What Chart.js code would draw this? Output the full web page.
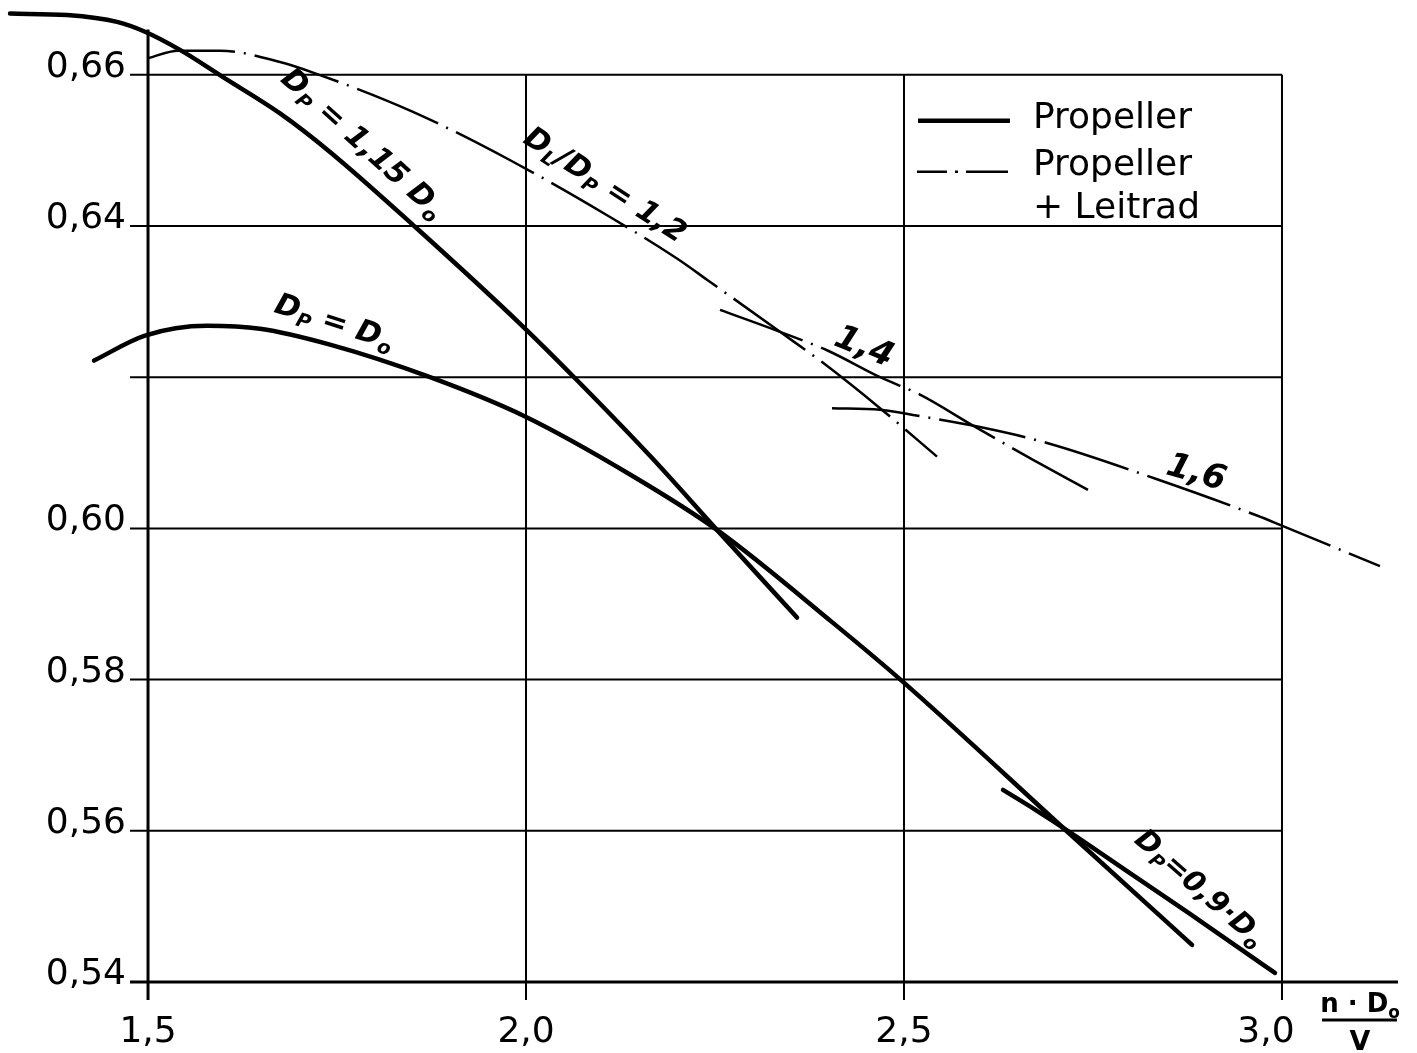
<!DOCTYPE html>
<html>
<head>
<meta charset="utf-8">
<title>Propeller / Leitrad</title>
<script src="https://cdn.jsdelivr.net/npm/chart.js@4.4.1/dist/chart.umd.min.js"></script>
<style>
  html, body { margin: 0; padding: 0; background: #fff; }
  canvas { display: block; }
</style>
</head>
<body>
<canvas id="chart" width="1417" height="1053"></canvas>
<script>
// axis ticks (the 0,62 line has no label in the original)
var xTicks = [1.5, 2.0, 2.5, 3.0];
var xTickLabels = ['1,5', '2,0', '2,5', '3,0'];
var yTicks = [0.54, 0.56, 0.58, 0.60, 0.62, 0.64, 0.66];
var yTickLabels = ['0,54', '0,56', '0,58', '0,60', '', '0,64', '0,66'];

// Propeller alone, D_P = 1,15 D_0
var dp115X = [1.3175, 1.3929, 1.4590, 1.4960, 1.5423, 1.5992, 1.6746, 1.7407, 1.8532, 1.9960, 2.0675, 2.1640, 2.2526, 2.3585];
var dp115Y = [0.6681, 0.6679, 0.6670, 0.6657, 0.6633, 0.6597, 0.6549, 0.6498, 0.6399, 0.6267, 0.6196, 0.6096, 0.5998, 0.5882];

// Propeller alone, D_P = D_0
var dp100X = [1.4286, 1.4960, 1.5780, 1.6481, 1.7407, 1.8730, 1.9987, 2.1415, 2.2526, 2.4061, 2.4987, 2.7169, 2.8810];
var dp100Y = [0.6222, 0.6255, 0.6268, 0.6264, 0.6243, 0.6200, 0.6148, 0.6069, 0.5998, 0.5875, 0.5797, 0.5598, 0.5449];

// Propeller alone, D_P = 0,9 D_0
var dp090X = [2.6310, 2.6733, 2.7196, 2.7989, 2.8783, 2.9444, 2.9907];
var dp090Y = [0.5654, 0.5628, 0.5598, 0.5544, 0.5490, 0.5444, 0.5412];

// Propeller + Leitrad, D_L/D_P = 1,2 / 1,4 / 1,6
var dl12X = [1.5000, 1.5397, 1.5952, 1.6746, 1.7183, 1.8505, 1.9828, 2.1111, 2.1997, 2.2394, 2.3360, 2.3929, 2.4683, 2.5437];
var dl12Y = [0.6622, 0.6632, 0.6632, 0.6617, 0.6603, 0.6551, 0.6485, 0.6412, 0.6357, 0.6329, 0.6260, 0.6219, 0.6159, 0.6095];
var dl14X = [2.2566, 2.3360, 2.3995, 2.4683, 2.5212, 2.5913, 2.6667, 2.7434];
var dl14Y = [0.6289, 0.6260, 0.6235, 0.6200, 0.6177, 0.6136, 0.6093, 0.6051];
var dl16X = [2.4048, 2.4683, 2.5119, 2.6005, 2.6892, 2.8347, 2.9669, 3.0013, 3.1296];
var dl16Y = [0.6159, 0.6157, 0.6150, 0.6134, 0.6113, 0.6065, 0.6017, 0.6003, 0.5950];

var legendLabels = ['Propeller', 'Propeller', '+ Leitrad'];

function pts(xs, ys) {
    return xs.map(function(x, i) { return {x: x, y: ys[i]}; });
}

var FONT = '"DejaVu Sans", sans-serif';
var DASHDOT = [88, 9, 2, 9];

// rotated labels written along the curves (anchored in data units)
var curveLabels = [
    {x: 1.7857, y: 0.6511, angle: 42, size: 30, parts: [['D'], ['P', 1], [' = 1,15 '], ['D'], ['o', 1]]},
    {x: 1.7474, y: 0.6275, angle: 18, size: 30, parts: [['D'], ['P', 1], [' = '], ['D'], ['o', 1]]},
    {x: 2.1060, y: 0.6456, angle: 33, size: 30, parts: [['D'], ['L', 1], ['/'], ['D'], ['P', 1], [' = 1,2']]},
    {x: 2.4484, y: 0.6243, angle: 22, size: 34, parts: [['1,4']]},
    {x: 2.8876, y: 0.6077, angle: 16, size: 34, parts: [['1,6']]},
    {x: 2.8929, y: 0.5526, angle: 41, size: 29, parts: [['D'], ['P', 1], ['=0,9\u00b7'], ['D'], ['o', 1]]}
];

function drawRich(ctx, parts, x, y, angle, size, style) {
    ctx.save();
    ctx.translate(x, y);
    ctx.rotate(angle * Math.PI / 180);
    var total = 0;
    var widths = parts.map(function(p) {
        ctx.font = style + ' ' + (p[1] ? size * 0.65 : size) + 'px ' + FONT;
        var w = ctx.measureText(p[0]).width;
        total += w;
        return w;
    });
    var cx = -total / 2;
    ctx.textAlign = 'left';
    ctx.textBaseline = 'alphabetic';
    parts.forEach(function(p, i) {
        ctx.font = style + ' ' + (p[1] ? size * 0.65 : size) + 'px ' + FONT;
        ctx.fillText(p[0], cx, size * 0.36 + (p[1] ? size * 0.2 : 0));
        cx += widths[i];
    });
    ctx.restore();
}

var paperPlugin = {
    id: 'paper',
    beforeDatasetsDraw: function(chart) {
        var ctx = chart.ctx, xs = chart.scales.x, ys = chart.scales.y;
        var left = xs.getPixelForValue(1.5), right = xs.getPixelForValue(3.0);
        var top = ys.getPixelForValue(0.66), bottom = ys.getPixelForValue(0.54);
        ctx.save();
        ctx.strokeStyle = '#000';
        ctx.lineCap = 'butt';
        yTicks.forEach(function(v) {
            var y = ys.getPixelForValue(v);
            ctx.lineWidth = v === 0.54 ? 3 : 2;
            ctx.beginPath();
            ctx.moveTo(left - 18, y);
            ctx.lineTo(v === 0.54 ? right + 116 : right, y);
            ctx.stroke();
        });
        xTicks.forEach(function(v) {
            var x = xs.getPixelForValue(v);
            ctx.lineWidth = v === 1.5 ? 3 : 2;
            ctx.beginPath();
            ctx.moveTo(x, v === 1.5 ? ys.getPixelForValue(0.666) : top);
            ctx.lineTo(x, bottom + 18);
            ctx.stroke();
        });
        ctx.restore();
    },
    afterDatasetsDraw: function(chart) {
        var ctx = chart.ctx, xs = chart.scales.x, ys = chart.scales.y;
        var right = xs.getPixelForValue(3.0), left = xs.getPixelForValue(1.5);
        var top = ys.getPixelForValue(0.66), bottom = ys.getPixelForValue(0.54);
        ctx.save();
        ctx.fillStyle = '#000';
        ctx.strokeStyle = '#000';

        // tick labels
        ctx.font = '36px ' + FONT;
        ctx.textAlign = 'right';
        ctx.textBaseline = 'alphabetic';
        yTicks.forEach(function(v, i) {
            if (yTickLabels[i]) ctx.fillText(yTickLabels[i], left - 22, ys.getPixelForValue(v) + 2);
        });
        ctx.textAlign = 'center';
        xTicks.forEach(function(v, i) {
            var x = xs.getPixelForValue(v) - (v === 3.0 ? 16 : 0);
            ctx.fillText(xTickLabels[i], x, bottom + 60);
        });

        // axis title n·D0 / V
        var fx = right + 78;
        drawRich(ctx, [['n \u00b7 D'], ['o', 1]], fx, bottom + 21, 0, 26, 'bold');
        ctx.lineWidth = 3;
        ctx.beginPath();
        ctx.moveTo(right + 40, bottom + 38);
        ctx.lineTo(right + 115, bottom + 38);
        ctx.stroke();
        ctx.font = 'bold 27px ' + FONT;
        ctx.textAlign = 'center';
        ctx.fillText('V', fx, bottom + 68);

        // curve labels
        curveLabels.forEach(function(l) {
            drawRich(ctx, l.parts, xs.getPixelForValue(l.x), ys.getPixelForValue(l.y), l.angle, l.size, 'italic bold');
        });

        // legend
        ctx.lineWidth = 4.5;
        ctx.beginPath();
        ctx.moveTo(right - 364, top + 46);
        ctx.lineTo(right - 272, top + 46);
        ctx.stroke();
        ctx.lineWidth = 2.5;
        ctx.setLineDash([30, 8, 3, 8, 60]);
        ctx.beginPath();
        ctx.moveTo(right - 365, top + 97);
        ctx.lineTo(right - 274, top + 97);
        ctx.stroke();
        ctx.setLineDash([]);
        ctx.font = '36px ' + FONT;
        ctx.textAlign = 'left';
        ctx.fillText(legendLabels[0], right - 249, top + 53);
        ctx.fillText(legendLabels[1], right - 249, top + 100);
        ctx.fillText(legendLabels[2], right - 249, top + 143);
        ctx.restore();
    }
};

function solid(label, data) {
    return {label: label, data: data, showLine: true, borderColor: '#000', borderWidth: 4.5,
            pointRadius: 0, cubicInterpolationMode: 'monotone', borderCapStyle: 'round'};
}
function dashDot(label, data) {
    return {label: label, data: data, showLine: true, borderColor: '#000', borderWidth: 2.5,
            pointRadius: 0, cubicInterpolationMode: 'monotone', borderDash: DASHDOT};
}

var chart = new Chart(document.getElementById('chart').getContext('2d'), {
    type: 'scatter',
    data: {
        datasets: [
            solid('D_P = 1,15 D_0', pts(dp115X, dp115Y)),
            solid('D_P = D_0', pts(dp100X, dp100Y)),
            solid('D_P = 0,9 D_0', pts(dp090X, dp090Y)),
            dashDot('D_L/D_P = 1,2', pts(dl12X, dl12Y)),
            dashDot('D_L/D_P = 1,4', pts(dl14X, dl14Y)),
            dashDot('D_L/D_P = 1,6', pts(dl16X, dl16Y))
        ]
    },
    options: {
        responsive: false,
        animation: false,
        devicePixelRatio: 1,
        layout: { padding: 0 },
        plugins: { legend: { display: false }, tooltip: { enabled: false } },
        scales: {
            x: { type: 'linear', min: 1.3042, max: 3.1786, display: false },
            y: { type: 'linear', min: 0.5306, max: 0.6699, display: false }
        }
    },
    plugins: [paperPlugin]
});
</script>
</body>
</html>
